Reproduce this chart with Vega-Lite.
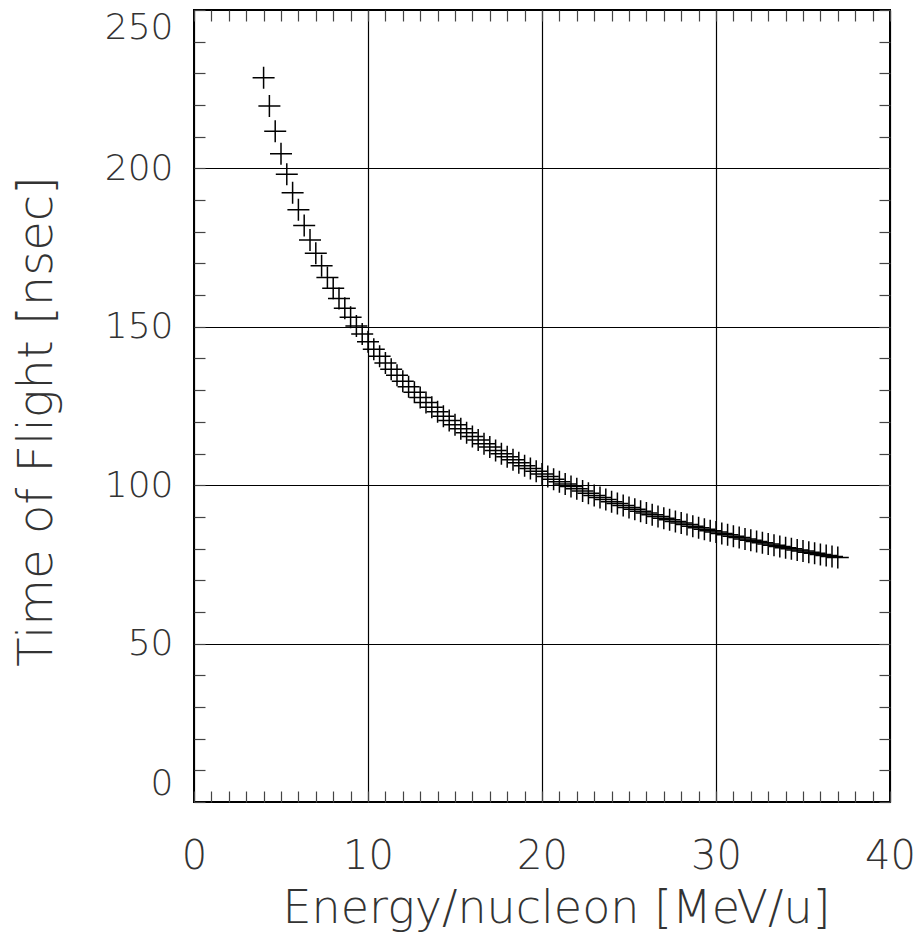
{
  "$schema": "https://vega.github.io/schema/vega-lite/v6.json",
  "width": 696,
  "height": 792,
  "autosize": "none",
  "padding": {"left": 194, "top": 10, "right": 32, "bottom": 143},
  "background": "white",
  "view": {"stroke": "black", "strokeWidth": 2},
  "data": {"values": [
    {"E": 4, "tof": 228.58}, {"E": 4.333, "tof": 219.67}, {"E": 4.667, "tof": 211.74}, {"E": 5, "tof": 204.61},
    {"E": 5.333, "tof": 198.17}, {"E": 5.667, "tof": 192.30}, {"E": 6, "tof": 186.93}, {"E": 6.333, "tof": 181.99},
    {"E": 6.667, "tof": 177.43}, {"E": 7, "tof": 173.20}, {"E": 7.333, "tof": 169.27}, {"E": 7.667, "tof": 165.59},
    {"E": 8, "tof": 162.15}, {"E": 8.333, "tof": 158.91}, {"E": 8.667, "tof": 155.87}, {"E": 9, "tof": 153.00},
    {"E": 9.333, "tof": 150.28}, {"E": 9.667, "tof": 147.71}, {"E": 10, "tof": 145.26}, {"E": 10.333, "tof": 142.94},
    {"E": 10.667, "tof": 140.72}, {"E": 11, "tof": 138.61}, {"E": 11.333, "tof": 136.60}, {"E": 11.667, "tof": 134.67},
    {"E": 12, "tof": 132.82}, {"E": 12.333, "tof": 131.04}, {"E": 12.667, "tof": 129.34}, {"E": 13, "tof": 127.71},
    {"E": 13.333, "tof": 126.14}, {"E": 13.667, "tof": 124.62}, {"E": 14, "tof": 123.16}, {"E": 14.333, "tof": 121.75},
    {"E": 14.667, "tof": 120.39}, {"E": 15, "tof": 119.08}, {"E": 15.333, "tof": 117.81}, {"E": 15.667, "tof": 116.58},
    {"E": 16, "tof": 115.39}, {"E": 16.333, "tof": 114.24}, {"E": 16.667, "tof": 113.12}, {"E": 17, "tof": 112.03},
    {"E": 17.333, "tof": 110.98}, {"E": 17.667, "tof": 109.96}, {"E": 18, "tof": 108.96}, {"E": 18.333, "tof": 108.00},
    {"E": 18.667, "tof": 107.06}, {"E": 19, "tof": 106.14}, {"E": 19.333, "tof": 105.25}, {"E": 19.667, "tof": 104.38},
    {"E": 20, "tof": 103.54}, {"E": 20.333, "tof": 102.71}, {"E": 20.667, "tof": 101.91}, {"E": 21, "tof": 101.12},
    {"E": 21.333, "tof": 100.35}, {"E": 21.667, "tof": 99.61}, {"E": 22, "tof": 98.87}, {"E": 22.333, "tof": 98.16},
    {"E": 22.667, "tof": 97.46}, {"E": 23, "tof": 96.78}, {"E": 23.333, "tof": 96.11}, {"E": 23.667, "tof": 95.45},
    {"E": 24, "tof": 94.81}, {"E": 24.333, "tof": 94.19}, {"E": 24.667, "tof": 93.57}, {"E": 25, "tof": 92.97},
    {"E": 25.333, "tof": 92.38}, {"E": 25.667, "tof": 91.81}, {"E": 26, "tof": 91.24}, {"E": 26.333, "tof": 90.68},
    {"E": 26.667, "tof": 90.14}, {"E": 27, "tof": 89.60}, {"E": 27.333, "tof": 89.08}, {"E": 27.667, "tof": 88.56},
    {"E": 28, "tof": 88.06}, {"E": 28.333, "tof": 87.56}, {"E": 28.667, "tof": 87.07}, {"E": 29, "tof": 86.60},
    {"E": 29.333, "tof": 86.12}, {"E": 29.667, "tof": 85.66}, {"E": 30, "tof": 85.21}, {"E": 30.333, "tof": 84.76},
    {"E": 30.667, "tof": 84.32}, {"E": 31, "tof": 83.89}, {"E": 31.333, "tof": 83.46}, {"E": 31.667, "tof": 83.04},
    {"E": 32, "tof": 82.63}, {"E": 32.333, "tof": 82.23}, {"E": 32.667, "tof": 81.83}, {"E": 33, "tof": 81.43},
    {"E": 33.333, "tof": 81.05}, {"E": 33.667, "tof": 80.66}, {"E": 34, "tof": 80.29}, {"E": 34.333, "tof": 79.92},
    {"E": 34.667, "tof": 79.56}, {"E": 35, "tof": 79.20}, {"E": 35.333, "tof": 78.84}, {"E": 35.667, "tof": 78.49},
    {"E": 36, "tof": 78.15}, {"E": 36.333, "tof": 77.81}, {"E": 36.667, "tof": 77.48}, {"E": 37, "tof": 77.15}
  ]},
  "config": {
    "font": "DejaVu Sans",
    "axis": {
      "labelFont": "DejaVu Sans", "labelFontWeight": 200, "labelColor": "#333",
      "titleFont": "DejaVu Sans", "titleFontWeight": 200, "titleColor": "#333",
      "gridColor": "black", "gridOpacity": 1, "gridWidth": 1.2,
      "tickColor": "#444", "tickWidth": 1.2, "tickOpacity": 1,
      "labelOverlap": false
    }
  },
  "layer": [
    {
      "mark": {"type": "point", "shape": "M-1,0L1,0M0,-1L0,1", "size": 484, "filled": false, "stroke": "black", "strokeWidth": 1.5, "opacity": 1},
      "encoding": {
        "x": {"field": "E", "type": "quantitative",
          "scale": {"domain": [0, 40], "nice": false, "zero": false},
          "axis": {"orient": "bottom", "values": [0, 10, 20, 30, 40], "grid": true, "ticks": false, "domain": false,
            "labelFlush": false, "labelFontSize": 40, "labelBaseline": "alphabetic", "labelPadding": 66, "labelAngle": 0,
            "title": "Energy/nucleon [MeV/u]", "titleFontSize": 46, "titleX": 362, "titleY": 120,
            "titleAlign": "center", "titleBaseline": "alphabetic", "titleAngle": 0}},
        "y": {"field": "tof", "type": "quantitative",
          "scale": {"domain": [0, 250], "nice": false, "zero": false},
          "axis": {"orient": "left", "values": [0, 50, 100, 150, 200, 250], "grid": true, "ticks": false, "domain": false,
            "labelFlush": true, "labelFontSize": 36, "labelPadding": 21,
            "title": "Time of Flight [nsec]", "titleFontSize": 48, "titleX": -143, "titleY": 411,
            "titleAlign": "center", "titleBaseline": "alphabetic", "titleAngle": -90}}
      }
    },
    {
      "transform": [{"filter": "false"}],
      "mark": {"type": "point", "opacity": 0},
      "encoding": {
        "x": {"field": "E", "type": "quantitative",
          "axis": {"orient": "bottom", "values": [0,1,2,3,4,5,6,7,8,9,10,11,12,13,14,15,16,17,18,19,20,21,22,23,24,25,26,27,28,29,30,31,32,33,34,35,36,37,38,39,40],
            "labels": false, "grid": false, "domain": false, "ticks": true, "tickSize": -11, "title": null}},
        "y": {"field": "tof", "type": "quantitative",
          "axis": {"orient": "left", "values": [0,10,20,30,40,50,60,70,80,90,100,110,120,130,140,150,160,170,180,190,200,210,220,230,240,250],
            "labels": false, "grid": false, "domain": false, "ticks": true, "tickSize": -11, "title": null}}
      }
    },
    {
      "transform": [{"filter": "false"}],
      "mark": {"type": "point", "opacity": 0},
      "encoding": {
        "x": {"field": "E", "type": "quantitative",
          "axis": {"orient": "top", "values": [0,1,2,3,4,5,6,7,8,9,10,11,12,13,14,15,16,17,18,19,20,21,22,23,24,25,26,27,28,29,30,31,32,33,34,35,36,37,38,39,40],
            "labels": false, "grid": false, "domain": false, "ticks": true, "tickSize": -11, "title": null}},
        "y": {"field": "tof", "type": "quantitative",
          "axis": {"orient": "right", "values": [0,10,20,30,40,50,60,70,80,90,100,110,120,130,140,150,160,170,180,190,200,210,220,230,240,250],
            "labels": false, "grid": false, "domain": false, "ticks": true, "tickSize": -11, "title": null}}
      }
    }
  ],
  "resolve": {"axis": {"x": "independent", "y": "independent"}}
}
